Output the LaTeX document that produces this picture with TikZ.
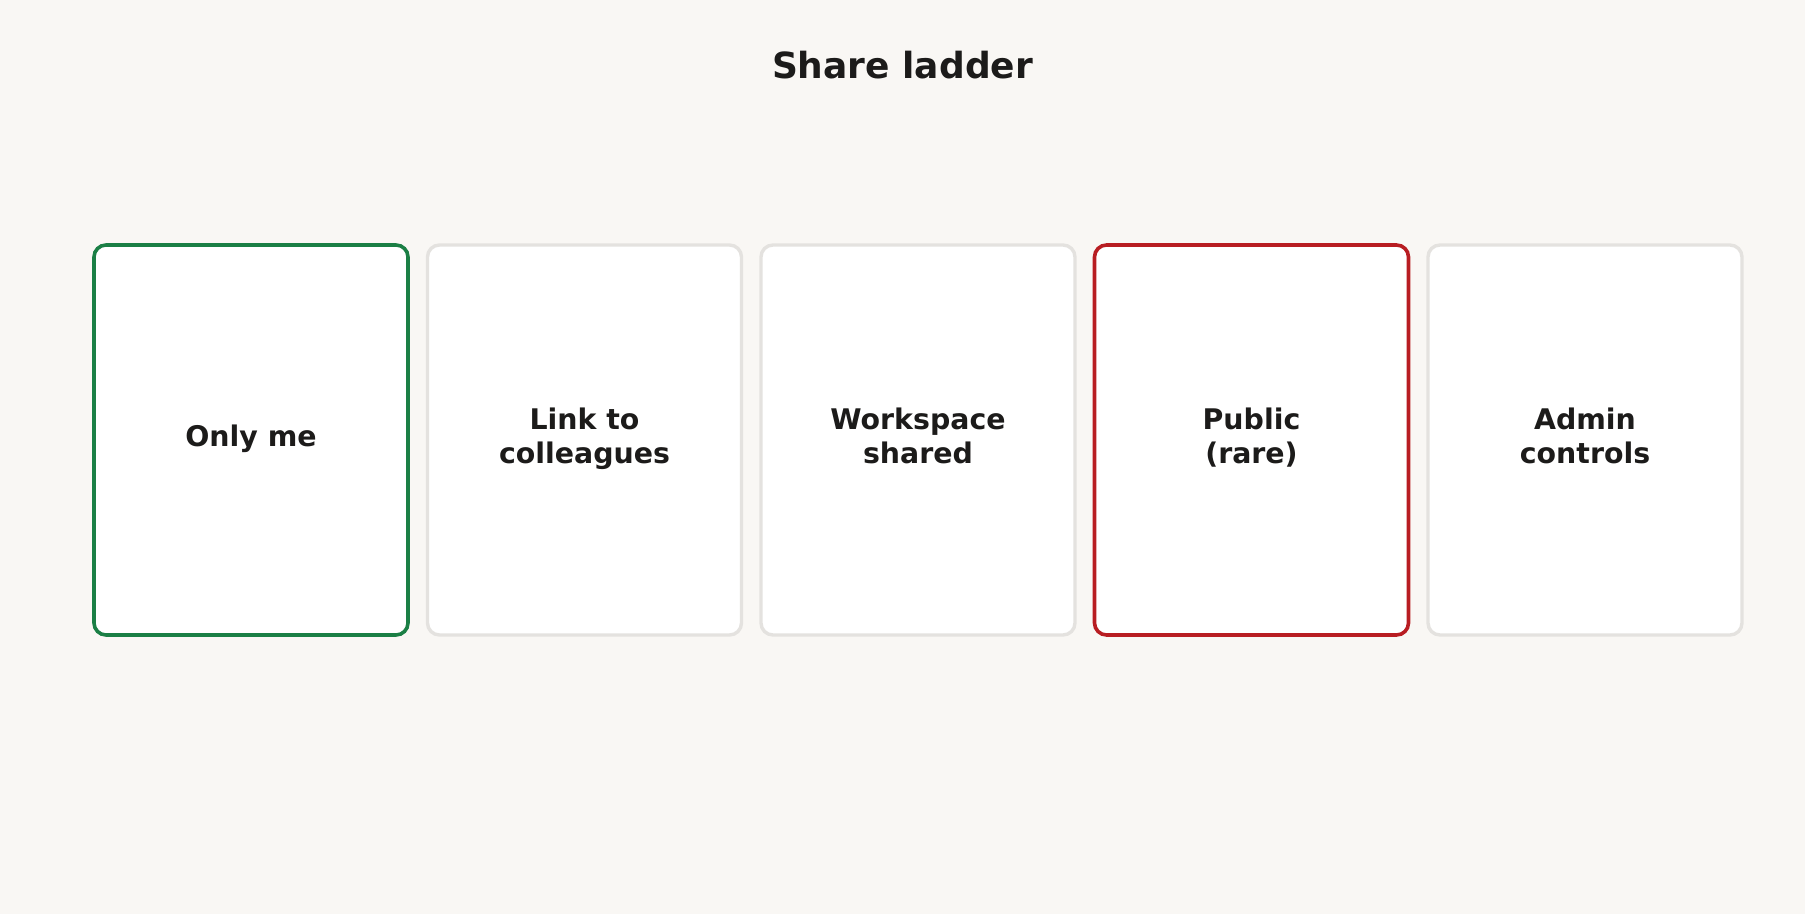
\documentclass[tikz,border=0pt]{standalone}
\usepackage{fontspec}
\setmainfont{DejaVu Sans}
\usepackage{xcolor}
\definecolor{paper}{HTML}{F9F7F4}
\definecolor{inkdark}{HTML}{1C1B1A}
\definecolor{safegreen}{HTML}{1B7F45}
\definecolor{riskred}{HTML}{B81D22}
\definecolor{cardgrey}{HTML}{E4E2DF}
\newcommand\rungline[1]{\smash{#1}\rule[-2.7pt]{0pt}{11.8pt}}
\tikzset{
  rung/.style={draw=cardgrey, line width=1.7pt, fill=white, rounded corners=6pt,
    minimum width=157pt, minimum height=195pt, align=center,
    text=inkdark, font=\fontsize{14.2}{16.8}\selectfont\bfseries},
  saferung/.style={rung, draw=safegreen, line width=1.8pt},
  riskrung/.style={rung, draw=riskred, line width=1.8pt},
}
\begin{document}
\begin{tikzpicture}[x=0.5pt,y=-0.5pt]
                    \fill[paper] (0,0) rectangle (1805,914);
                    \useasboundingbox (0,0) rectangle (1805,914);
                    \node[text=inkdark, font=\fontsize{18}{21}\selectfont\bfseries] (title) at (902.5,65) {Share ladder};

                    \node[saferung] (onlyme) at (251,440) {\rungline{Only me}};
                    \node[rung] (colleagues) at (584.5,440) {\rungline{Link to}\\\rungline{colleagues}};
                    \node[rung] (workspace) at (918,440) {\rungline{Workspace}\\\rungline{shared}};
                    \node[riskrung] (public) at (1251.5,440) {\rungline{Public}\\\rungline{(rare)}};
                    \node[rung] (admin) at (1585,440) {\rungline{Admin}\\\rungline{controls}};
                \end{tikzpicture}
\end{document}
